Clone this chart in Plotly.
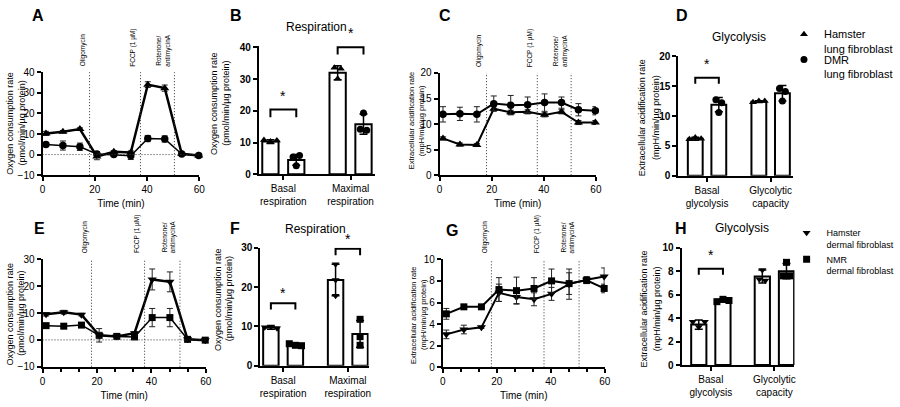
import plotly.graph_objects as go

FIG_W, FIG_H = 900, 407
FONT = "Arial, Liberation Sans, sans-serif"

# ---------------- data ----------------
TIME = [1.3, 7.8, 14.3, 20.8, 27.3, 33.8, 40.3, 46.8, 53.3, 59.8]
INJECTION_TIMES = [18.0, 37.5, 50.5]
INJECTION_LABELS = ["Oligomycin", "FCCP (1 µM)", "Rotenone/<br>antimycinA"]

# Panel A - OCR, lung fibroblasts
A_HAMSTER = [10.3, 11.1, 12.4, -0.9, 1.4, 1.0, 34.0, 32.3, 0.4, -0.4]
A_HAMSTER_SD = [1.0, 0.6, 0.6, 1.6, 0.6, 0.8, 1.4, 1.5, 0.5, 0.5]
A_DMR = [4.9, 4.4, 3.8, 0.3, 0.0, -0.6, 7.8, 7.6, 0.3, -0.5]
A_DMR_SD = [0.8, 2.2, 1.8, 1.2, 0.6, 1.8, 1.5, 1.5, 0.5, 0.5]

# Panel C - ECAR, lung fibroblasts
C_HAMSTER = [7.2, 6.0, 5.9, 13.0, 12.3, 12.4, 11.8, 12.4, 10.3, 10.3]
C_HAMSTER_SD = [0.3, 0.3, 0.3, 0.4, 0.4, 0.4, 0.4, 0.4, 0.4, 0.4]
C_DMR = [11.9, 12.0, 11.9, 14.0, 13.7, 13.8, 14.2, 14.2, 12.8, 12.6]
C_DMR_SD = [1.5, 1.3, 1.5, 1.5, 1.9, 1.5, 1.7, 1.1, 1.2, 0.8]

# Panel E - OCR, dermal fibroblasts
E_HAMSTER = [9.5, 10.3, 9.4, 1.7, 1.3, 2.5, 22.5, 21.6, 0.2, -0.1]
E_HAMSTER_SD = [0.6, 0.7, 0.5, 1.0, 0.5, 0.6, 3.9, 3.7, 0.3, 0.3]
E_NMR = [5.3, 5.1, 5.5, 1.7, 1.3, 1.1, 8.3, 8.3, 0.2, -0.1]
E_NMR_SD = [0.5, 0.4, 0.4, 2.5, 0.5, 0.5, 3.4, 3.4, 0.3, 0.3]

# Panel G - ECAR, dermal fibroblasts
G_HAMSTER = [3.05, 3.5, 3.7, 6.9, 6.5, 6.3, 6.8, 7.7, 8.1, 8.4]
G_HAMSTER_SD = [0.4, 0.4, 0.1, 0.8, 0.6, 0.6, 0.6, 1.4, 0.3, 0.8]
G_NMR = [4.95, 5.6, 5.6, 7.2, 7.1, 7.3, 8.0, 7.75, 8.05, 7.3]
G_NMR_SD = [0.5, 0.1, 0.1, 1.1, 1.25, 1.0, 1.1, 1.0, 0.3, 0.4]

RESP_CATS = ["Basal<br>respiration", "Maximal<br>respiration"]
GLYC_CATS = ["Basal<br>glycolysis", "Glycolytic<br>capacity"]

# Panel B - respiration, lung
B_HAMSTER_MEAN = [10.3, 32.0]
B_HAMSTER_SD = [0.6, 2.2]
B_HAMSTER_PTS = [[10.8, 10.3, 10.6], [33.6, 30.1, 33.3]]
B_DMR_MEAN = [4.5, 15.8]
B_DMR_SD = [1.7, 3.2]
B_DMR_PTS = [[5.4, 2.7, 5.9], [14.2, 19.3, 13.9]]

# Panel D - glycolysis, lung
D_HAMSTER_MEAN = [6.2, 12.4]
D_HAMSTER_SD = [0.25, 0.15]
D_HAMSTER_PTS = [[6.1, 6.4, 6.2], [12.3, 12.5, 12.5]]
D_DMR_MEAN = [11.9, 13.8]
D_DMR_SD = [1.2, 1.3]
D_DMR_PTS = [[12.7, 10.6, 12.2], [14.6, 12.5, 14.1]]

# Panel F - respiration, dermal
F_HAMSTER_MEAN = [9.7, 21.8]
F_HAMSTER_SD = [0.4, 4.0]
F_HAMSTER_PTS = [[9.8, 10.0, 9.5], [25.8, 21.8, 17.8]]
F_NMR_MEAN = [5.3, 8.1]
F_NMR_SD = [0.3, 3.4]
F_NMR_PTS = [[5.6, 5.2, 5.1], [11.8, 7.4, 5.2]]

# Panel H - glycolysis, dermal
H_HAMSTER_MEAN = [3.45, 7.55]
H_HAMSTER_SD = [0.4, 0.55]
H_HAMSTER_PTS = [[3.7, 3.25, 3.7], [7.3, 8.1, 7.2]]
H_NMR_MEAN = [5.5, 8.0]
H_NMR_SD = [0.12, 0.65]
H_NMR_PTS = [[5.4, 5.6, 5.5], [7.6, 8.75, 7.6]]

# significance: (group, bracket top, bracket leg end)
B_SIG = [(0, 20.4, 18.0), (1, 40.1, 37.8)]
D_SIG = [(0, 16.4, 15.4)]
F_SIG = [(0, 15.9, 14.3), (1, 29.7, 28.1)]
H_SIG = [(0, 8.2, 7.7)]

LUNG_NAMES = ["Hamster<br>lung fibroblast", "DMR<br>lung fibroblast"]
DERMAL_NAMES = ["Hamster<br>dermal fibroblast", "NMR<br>dermal fibroblast"]

# ---------------- layout geometry (pixels) ----------------
GEOM = {
    # panel: (axis idx, x0, x1, ytop, ybot, xrange, yrange, dtick)
    "A": (1, 40.3, 200.0, 68.3, 174.3, [0, 60], [-10, 40], 10),
    "B": (2, 260.7, 379.3, 41.1, 173.3, [-0.45, 4.05], [0, 40.5], 10),
    "C": (3, 445.0, 604.3, 69.0, 174.3, [0, 60], [0, 20], 5),
    "D": (4, 688.3, 805.0, 51.7, 175.0, [-0.72, 4.14], [0, 20], 5),
    "E": (5, 40.3, 206.7, 261.0, 371.7, [0, 60], [-10, 30], 10),
    "F": (6, 262.3, 372.7, 249.0, 370.7, [-0.43, 3.99], [0, 30], 10),
    "G": (7, 448.3, 613.3, 261.0, 372.3, [0, 60], [0, 10], 2),
    "H": (8, 691.7, 806.7, 249.0, 370.0, [-0.71, 3.96], [0, 10], 2),
}
GROUP_GAP = {"B": 2.6, "D": 2.7, "F": 2.64, "H": 2.63}
BAR_W = 0.63
DOTTED = dict(color="#333", width=1, dash="1px,2px")


def px(x):
    return x / FIG_W


def py(y):
    return 1 - y / FIG_H


fig = go.Figure()
layout = dict(
    width=FIG_W, height=FIG_H, margin=dict(l=0, r=0, t=0, b=0),
    paper_bgcolor="white", plot_bgcolor="white",
    font=dict(family=FONT, color="black", size=10),
    barmode="overlay", showlegend=True,
)
annotations = []
shapes = []


def ax_names(i):
    return ("x" if i == 1 else f"x{i}"), ("y" if i == 1 else f"y{i}")


def setup_axes(panel, bold=False, xtitle=None, tickvals=None, ticktext=None, minor=False):
    i, x0, x1, yt, yb, xr, yr, dt = GEOM[panel]
    xk = "xaxis" if i == 1 else f"xaxis{i}"
    yk = "yaxis" if i == 1 else f"yaxis{i}"
    xn, yn = ax_names(i)
    tf = dict(size=10, family=FONT, weight="bold" if bold else "normal")
    xa = dict(domain=[px(x0), px(x1)], anchor=yn, range=xr, showline=True, linecolor="black",
              linewidth=2, ticks="outside", ticklen=4, tickwidth=2, tickcolor="black",
              showgrid=False, zeroline=False, tickfont=dict(size=10, family=FONT))
    if tickvals is not None:
        xa.update(tickmode="array", tickvals=tickvals, ticktext=ticktext)
    else:
        xa.update(tickmode="linear", tick0=0, dtick=20)
    if minor:
        xa["minor"] = dict(ticks="outside", ticklen=3, tickwidth=1.5, tickcolor="black",
                           dtick=20 / 3, tick0=0, showgrid=False)
    if xtitle:
        xa["title"] = dict(text=xtitle, font=dict(size=10, family=FONT), standoff=6)
    ya = dict(domain=[py(yb), py(yt)], anchor=xn, range=yr, showline=True, linecolor="black",
              linewidth=2, ticks="outside", ticklen=4, tickwidth=2, tickcolor="black",
              showgrid=False, zeroline=False, tickmode="linear", tick0=0, dtick=dt,
              tickfont=tf)
    layout[xk] = xa
    layout[yk] = ya


def line_panel(panel, series):
    i = GEOM[panel][0]
    xn, yn = ax_names(i)
    for vals, sds, sym, size, lw in series:
        fig.add_trace(go.Scatter(
            x=TIME, y=vals, xaxis=xn, yaxis=yn, mode="lines+markers",
            line=dict(color="black", width=lw),
            marker=dict(symbol=sym, size=size, color="black"),
            error_y=dict(type="data", array=sds, visible=True, color="#222", thickness=1, width=3),
            showlegend=False, cliponaxis=False))
    for t, lab in zip(INJECTION_TIMES, INJECTION_LABELS):
        shapes.append(dict(type="line", xref=xn, yref=f"{yn} domain", x0=t, x1=t, y0=0, y1=1,
                           line=DOTTED, layer="above"))
        annotations.append(dict(text=lab, x=t, xref=xn, y=1, yref=f"{yn} domain",
                                xanchor="right", yanchor="bottom", xshift=-1, yshift=4,
                                textangle=-90, showarrow=False, align="center",
                                font=dict(size=6.5, family=FONT)))


def zero_line(panel):
    i = GEOM[panel][0]
    xn, yn = ax_names(i)
    shapes.append(dict(type="line", xref=f"{xn} domain", yref=yn, x0=0, x1=1, y0=0, y1=0,
                       line=DOTTED, layer="above"))


def point_offsets(vals, thr, spread=0.25):
    n = len(vals)
    order = sorted(range(n), key=lambda k: vals[k])
    clusters = []
    for k in order:
        if clusters and vals[k] - vals[clusters[-1][-1]] < thr:
            clusters[-1].append(k)
        else:
            clusters.append([k])
    off = [0.0] * n
    for c in clusters:
        c = sorted(c)
        m = len(c)
        for j, k in enumerate(c):
            off[k] = (j - (m - 1) / 2) * spread
    return off


def bar_panel(panel, series, cats, sig, star_shift, legends=None):
    i, x0, x1, yt, yb, xr, yr, dt = GEOM[panel]
    xn, yn = ax_names(i)
    gap = GROUP_GAP[panel]
    thr = 0.055 * (yr[1] - yr[0])
    for s, (means, sds, pts, sym, name) in enumerate(series):
        xs = [g * gap + s for g in range(len(means))]
        fig.add_trace(go.Bar(x=xs, y=means, xaxis=xn, yaxis=yn, width=BAR_W,
                             marker=dict(color="white", line=dict(color="black", width=2)),
                             error_y=dict(type="data", array=sds, visible=True, color="black",
                                          thickness=1.5, width=4),
                             showlegend=False))
        px_, py_ = [], []
        for g, grp in enumerate(pts):
            off = point_offsets(grp, thr)
            for v, o in zip(grp, off):
                px_.append(g * gap + s + o)
                py_.append(v)
        fig.add_trace(go.Scatter(x=px_, y=py_, xaxis=xn, yaxis=yn, mode="markers",
                                 marker=dict(symbol=sym, size=7, color="black"),
                                 name=name, showlegend=legends is not None,
                                 legend=legends[s] if legends else "legend", cliponaxis=False))
    centers = [g * gap + 0.5 for g in range(len(cats))]
    setup_axes(panel, bold=True, tickvals=centers, ticktext=cats)
    for g, top, leg in sig:
        a, b = g * gap, g * gap + 1
        shapes.append(dict(type="path", xref=xn, yref=yn,
                           path=f"M {a},{leg} L {a},{top} L {b},{top} L {b},{leg}",
                           line=dict(color="black", width=2)))
        annotations.append(dict(text="*", x=g * gap + 0.5, xref=xn, y=top, yref=yn,
                                xanchor="center", yanchor="bottom", yshift=star_shift,
                                showarrow=False, font=dict(size=14, family=FONT)))


# ---- line panels ----
line_panel("A", [(A_DMR, A_DMR_SD, "circle", 7.5, 1.5),
                 (A_HAMSTER, A_HAMSTER_SD, "triangle-up", 8, 2.5)])
setup_axes("A", xtitle="Time (min)")
zero_line("A")
line_panel("C", [(C_HAMSTER, C_HAMSTER_SD, "triangle-up", 8, 2),
                 (C_DMR, C_DMR_SD, "circle", 7.5, 2)])
setup_axes("C", xtitle="Time (min)")
line_panel("E", [(E_NMR, E_NMR_SD, "square", 7, 1.5),
                 (E_HAMSTER, E_HAMSTER_SD, "triangle-down", 8, 2.5)])
setup_axes("E", xtitle="Time (min)", minor=True)
zero_line("E")
line_panel("G", [(G_HAMSTER, G_HAMSTER_SD, "triangle-down", 8, 2),
                 (G_NMR, G_NMR_SD, "square", 7, 2)])
setup_axes("G", xtitle="Time (min)", minor=True)

# ---- bar panels ----
bar_panel("B", [(B_HAMSTER_MEAN, B_HAMSTER_SD, B_HAMSTER_PTS, "triangle-up", LUNG_NAMES[0]),
                (B_DMR_MEAN, B_DMR_SD, B_DMR_PTS, "circle", LUNG_NAMES[1])],
          RESP_CATS, B_SIG, 4)
bar_panel("D", [(D_HAMSTER_MEAN, D_HAMSTER_SD, D_HAMSTER_PTS, "triangle-up", LUNG_NAMES[0]),
                (D_DMR_MEAN, D_DMR_SD, D_DMR_PTS, "circle", LUNG_NAMES[1])],
          GLYC_CATS, D_SIG, 4, legends=["legend", "legend3"])
bar_panel("F", [(F_HAMSTER_MEAN, F_HAMSTER_SD, F_HAMSTER_PTS, "triangle-down", DERMAL_NAMES[0]),
                (F_NMR_MEAN, F_NMR_SD, F_NMR_PTS, "square", DERMAL_NAMES[1])],
          RESP_CATS, F_SIG, 0)
bar_panel("H", [(H_HAMSTER_MEAN, H_HAMSTER_SD, H_HAMSTER_PTS, "triangle-down", DERMAL_NAMES[0]),
                (H_NMR_MEAN, H_NMR_SD, H_NMR_PTS, "square", DERMAL_NAMES[1])],
          GLYC_CATS, H_SIG, 4, legends=["legend2", "legend2"])

# ---- text ----
OCR_LINES = ["Oxygen consumption rate", "(pmol/min/µg protein)"]
ECAR_LINES = ["Extracellular acidification rate", "(mpH/min/µg protein)"]
# (lines, x of line 1, x of line 2, y centre, font size)
YTITLES = [(OCR_LINES, 7.5, 19.5, 121, 9), (OCR_LINES, 215, 227, 100, 9),
           (ECAR_LINES, 416.7, 426.7, 118, 7.5), (ECAR_LINES, 651, 665, 115, 9),
           (OCR_LINES, 7, 18.5, 317, 9), (OCR_LINES, 219, 230.5, 302, 9),
           (ECAR_LINES, 418.3, 428.5, 318, 7.5), (ECAR_LINES, 653, 666, 312, 9)]
for lines, xa, xb, y, s in YTITLES:
    for t, x in zip(lines, (xa, xb)):
        annotations.append(dict(text=t, x=px(x), y=py(y), xref="paper", yref="paper",
                                xanchor="center", yanchor="middle", textangle=-90,
                                showarrow=False, font=dict(size=s, family=FONT)))

LETTERS = [("A", 36, 10), ("B", 237.5, 10), ("C", 451, 10), ("D", 692, 10),
           ("E", 36.7, 229), ("F", 236.7, 229), ("G", 458, 231), ("H", 691, 229)]
for t, x, y in LETTERS:
    annotations.append(dict(text=t, x=px(x), y=py(y), xref="paper", yref="paper",
                            xanchor="center", yanchor="middle", showarrow=False,
                            font=dict(size=16, family=FONT, weight="bold")))

TITLES = [("Respiration", 320, 21.7), ("Glycolysis", 750, 32),
          ("Respiration", 318.3, 229.3), ("Glycolysis", 753, 229)]
for t, x, y in TITLES:
    annotations.append(dict(text=t, x=px(x), y=py(y), xref="paper", yref="paper",
                            xanchor="center", yanchor="middle", showarrow=False,
                            font=dict(size=12, family=FONT)))

LEG_STYLE = dict(xanchor="left", yanchor="top", bgcolor="rgba(0,0,0,0)",
                 valign="top", tracegroupgap=0, itemwidth=30, borderwidth=0)
layout["legend"] = dict(x=px(796), y=py(15), font=dict(size=11, family=FONT), **LEG_STYLE)
layout["legend3"] = dict(x=px(796), y=py(41), font=dict(size=11, family=FONT), **LEG_STYLE)
layout["legend2"] = dict(x=px(798.7), y=py(221), font=dict(size=9, family=FONT), **LEG_STYLE)
layout["annotations"] = annotations
layout["shapes"] = shapes
fig.update_layout(**layout)
fig.write_html("out.html", config={"displayModeBar": False},
               post_script="document.body.style.margin='0';document.body.style.overflow='hidden';")
